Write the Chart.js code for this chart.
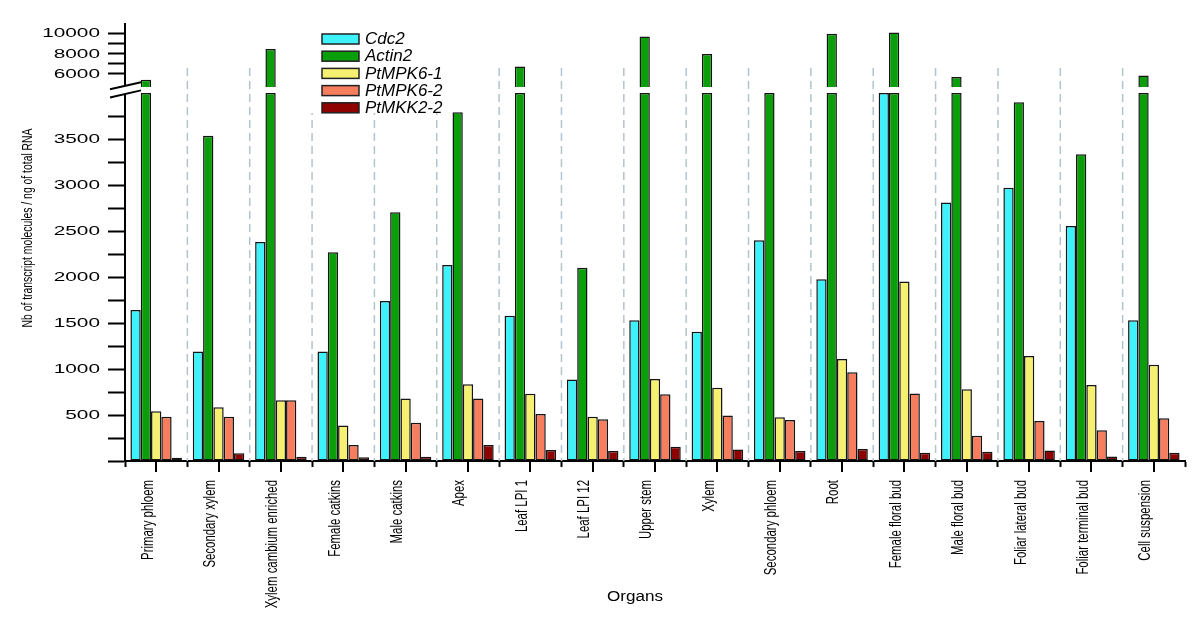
<!DOCTYPE html>
<html><head><meta charset="utf-8">
<script src="https://cdn.jsdelivr.net/npm/chart.js@4/dist/chart.umd.min.js"></script>
<style>html,body{margin:0;padding:0;background:#fff}#wrap{width:1200px;height:635px;position:relative}</style>
</head><body><div id="wrap"><canvas id="c"></canvas></div>
<script>
const organs = ['Primary phloem','Secondary xylem','Xylem cambium enriched','Female catkins','Male catkins','Apex','Leaf LPI 1','Leaf LPI 12','Upper stem','Xylem','Secondary phloem','Root','Female floral bud','Male floral bud','Foliar lateral bud','Foliar terminal bud','Cell suspension'];
const seriesNames = ['Cdc2','Actin2','PtMPK6-1','PtMPK6-2','PtMKK2-2'];
const cdc2   = [1640,1190,2380,1190,1740,2130,1580,885,1530,1405,2400,1975,4400,2810,2970,2555,1530];
const actin2 = [5410,3535,8430,2270,2705,3790,6720,2100,9670,7940,4050,9930,10060,5680,3900,3335,5830];
const mpk61  = [540,585,660,385,680,835,730,480,890,795,475,1110,1950,780,1140,825,1045];
const mpk62  = [480,480,660,175,415,680,510,455,725,495,445,965,735,275,435,335,465];
const mkk22  = [35,85,45,40,45,175,120,110,155,125,110,130,90,100,115,50,90];
const colors = ['#3ef2fc','#0b9e0b','#f6f071','#f67d5e','#8e0202'];
const lowTickValues  = [0,250,500,750,1000,1250,1500,1750,2000,2250,2500,2750,3000,3250,3500,3750];
const lowTickLabels  = ['500','1000','1500','2000','2500','3000','3500'];
const highTickValues = [6000,7000,8000,9000,10000];
const highTickLabels = ['6000','8000','10000'];
const LOW_MAX = 4000, HIGH_MIN = 4700, HIGH_MAX = 10900;
const yTitle = 'Nb of transcript molecules / ng of total RNA';
const xTitle = 'Organs';

const allSeries = [cdc2, actin2, mpk61, mpk62, mkk22];
const datasets = [];
allSeries.forEach((vals, k) => {
  datasets.push({label: seriesNames[k], data: vals.map(v => Math.min(v, LOW_MAX)), yAxisID: 'yLow', stack: 's' + k,
    backgroundColor: colors[k], borderColor: '#141414', borderWidth: 1.5, borderSkipped: false,
    categoryPercentage: 0.826, barPercentage: 1});
});
allSeries.forEach((vals, k) => {
  datasets.push({label: seriesNames[k] + ' ', data: vals.map(v => v > HIGH_MIN ? v : null), yAxisID: 'yHigh', stack: 's' + k,
    backgroundColor: colors[k], borderColor: '#141414', borderWidth: 1.5, borderSkipped: false,
    categoryPercentage: 0.826, barPercentage: 1});
});

const BASEFONT = "'Liberation Sans', Arial, sans-serif";

const overlay = {
  id: 'overlay',
  beforeDatasetsDraw(chart) {
    const {ctx} = chart; const x = chart.scales.x, yL = chart.scales.yLow, yH = chart.scales.yHigh;
    ctx.save();
    ctx.strokeStyle = '#b3c4cc'; ctx.lineWidth = 1.5; ctx.setLineDash([8, 5]);
    const top = yH.getPixelForValue(6570);
    for (let i = 1; i < organs.length; i++) {
      const px = (x.getPixelForValue(i - 1) + x.getPixelForValue(i)) / 2;
      ctx.beginPath(); ctx.moveTo(px, top); ctx.lineTo(px, yL.bottom); ctx.stroke();
    }
    ctx.restore();
  },
  afterDraw(chart) {
    const {ctx} = chart; const x = chart.scales.x, yL = chart.scales.yLow, yH = chart.scales.yHigh;
    ctx.save();
    // center tick marks on x axis
    ctx.strokeStyle = '#000'; ctx.lineWidth = 2;
    for (let i = 0; i < organs.length; i++) {
      const px = Math.round(x.getPixelForValue(i));
      ctx.beginPath(); ctx.moveTo(px, yL.bottom); ctx.lineTo(px, yL.bottom + 11); ctx.stroke();
    }
    // x tick labels (condensed, rotated)
    ctx.fillStyle = '#000'; ctx.font = '16px ' + BASEFONT; ctx.textAlign = 'right'; ctx.textBaseline = 'middle';
    organs.forEach((lab, i) => {
      const px = x.getPixelForValue(i);
      ctx.save(); ctx.translate(px - 8, yL.bottom + 19); ctx.rotate(-Math.PI / 2); ctx.scale(0.714, 1);
      ctx.fillText(lab, 0, 0); ctx.restore();
    });
    // axis break
    const ax = yL.right, gy = (yH.bottom + yL.top) / 2;
    ctx.fillStyle = '#fff';
    ctx.beginPath();
    ctx.moveTo(ax - 15, gy - 0.7); ctx.lineTo(ax + 16, gy - 7.8); ctx.lineTo(ax + 16, gy + 0.4); ctx.lineTo(ax - 15, gy + 7.5); ctx.closePath(); ctx.fill();
    ctx.strokeStyle = '#000'; ctx.lineWidth = 2;
    ctx.beginPath(); ctx.moveTo(ax - 15, gy - 0.7); ctx.lineTo(ax + 16, gy - 7.8); ctx.stroke();
    ctx.beginPath(); ctx.moveTo(ax - 15, gy + 7.5); ctx.lineTo(ax + 16, gy + 0.4); ctx.stroke();
    // y tick labels (wide font)
    ctx.fillStyle = '#000'; ctx.font = '13px ' + BASEFONT; ctx.textAlign = 'right'; ctx.textBaseline = 'middle';
    const drawWide = (txt, px, py) => { ctx.save(); ctx.translate(px, py); ctx.scale(1.6, 1); ctx.fillText(txt, 0, 0); ctx.restore(); };
    lowTickLabels.forEach(l => drawWide(l, 100, yL.getPixelForValue(+l) + 0.5));
    highTickLabels.forEach(l => drawWide(l, 100, yH.getPixelForValue(+l) + 0.5));
    // y title
    ctx.save();
    ctx.font = '15px ' + BASEFONT; ctx.textAlign = 'center'; ctx.textBaseline = 'middle';
    const w = ctx.measureText(yTitle).width;
    ctx.translate(27.5, 228); ctx.rotate(-Math.PI / 2); ctx.scale(199 / w, 1);
    ctx.fillText(yTitle, 0, 0);
    ctx.restore();
    // x title
    ctx.save();
    ctx.font = '14px ' + BASEFONT; ctx.textAlign = 'center'; ctx.textBaseline = 'middle';
    ctx.translate(635, 597); ctx.scale(1.22, 1); ctx.fillText(xTitle, 0, 0);
    ctx.restore();
    // legend
    ctx.fillStyle = '#fff'; ctx.fillRect(305, 24, 140, 89);
    ctx.font = 'italic 17px ' + BASEFONT; ctx.textAlign = 'left'; ctx.textBaseline = 'middle';
    seriesNames.forEach((n, k) => {
      const ty = 34 + 17.2 * k;
      ctx.fillStyle = colors[k]; ctx.fillRect(322, ty, 37, 10);
      ctx.strokeStyle = '#222'; ctx.lineWidth = 1.5; ctx.strokeRect(322, ty, 37, 10);
      ctx.fillStyle = '#000'; ctx.fillText(n, 365, ty + 5.5);
    });
    ctx.restore();
  }
};

new Chart(document.getElementById('c'), {
  type: 'bar',
  data: {labels: organs, datasets},
  options: {
    responsive: true, maintainAspectRatio: false, animation: false,
    layout: {padding: {left: 0, right: 15, top: 24, bottom: 0}},
    plugins: {legend: {display: false}, tooltip: {enabled: false}},
    scales: {
      x: {
        offset: true,
        grid: {offset: true, drawOnChartArea: false, tickLength: 6, tickColor: '#000', tickWidth: 2},
        border: {display: true, color: '#000', width: 2},
        ticks: {display: false, autoSkip: false},
        afterFit(s) { s.height = 174; }
      },
      yLow: {
        type: 'linear', position: 'left', stack: 'v', stackWeight: 368, min: 0, max: LOW_MAX, stacked: false,
        afterBuildTicks(s) { s.ticks = lowTickValues.map(v => ({value: v})); },
        ticks: {display: false},
        grid: {drawOnChartArea: false, tickLength: 17, tickColor: '#000', tickWidth: 2},
        border: {display: true, color: '#000', width: 2},
        afterFit(s) { s.width = 125; }
      },
      yGap: {
        type: 'linear', position: 'left', stack: 'v', stackWeight: 6, min: 0, max: 1, display: false,
        afterFit(s) { s.width = 125; }
      },
      yHigh: {
        type: 'linear', position: 'left', stack: 'v', stackWeight: 63, min: HIGH_MIN, max: HIGH_MAX, stacked: false,
        afterBuildTicks(s) { s.ticks = highTickValues.map(v => ({value: v})); },
        ticks: {display: false},
        grid: {drawOnChartArea: false, tickLength: 17, tickColor: '#000', tickWidth: 2},
        border: {display: true, color: '#000', width: 2},
        afterFit(s) { s.width = 125; }
      }
    }
  },
  plugins: [overlay]
});
</script>
</body></html>
